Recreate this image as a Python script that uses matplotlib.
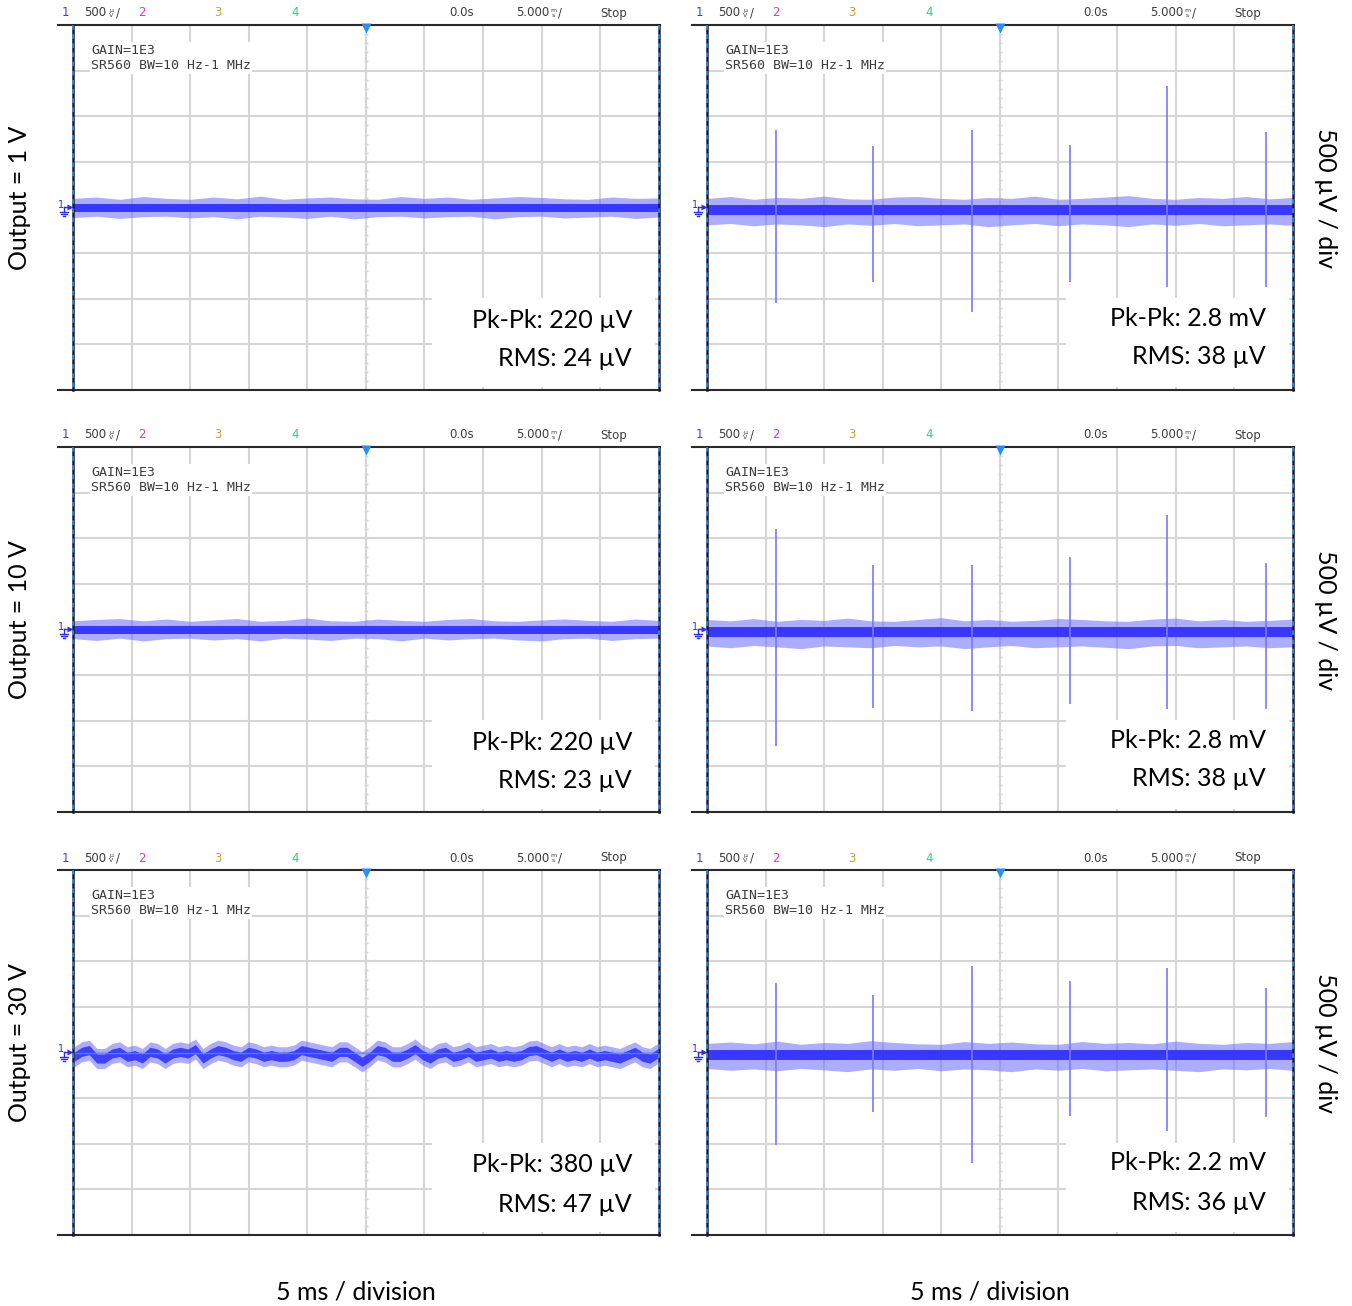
import numpy as np
import matplotlib
matplotlib.use('Agg')
import matplotlib.pyplot as plt
from matplotlib.patches import Rectangle

W, H = 1352, 1306

# scope: 10 x 8 divisions, 5 ms/div, 500 uV/div
t_span = 50.0
v_half = 2000.0

row_labels = ['Output = 1 V', 'Output = 10 V', 'Output = 30 V']
pkpk_left = ['Pk-Pk: 220 µV', 'Pk-Pk: 220 µV', 'Pk-Pk: 380 µV']
rms_left = ['RMS: 24 µV', 'RMS: 23 µV', 'RMS: 47 µV']
pkpk_right = ['Pk-Pk: 2.8 mV', 'Pk-Pk: 2.8 mV', 'Pk-Pk: 2.2 mV']
rms_right = ['RMS: 38 µV', 'RMS: 38 µV', 'RMS: 36 µV']
side_label = '500 µV / div'
bottom_label = '5 ms / division'

# noise envelope of the flat traces (uV), one value every 2 ms
env_t = np.arange(0, 51, 2)
flat_hi = [
    [100, 115, 90, 120, 100, 90, 115, 95, 125, 90, 105, 115, 95,
     90, 120, 100, 115, 90, 105, 120, 110, 95, 90, 115, 100, 105],
    [95, 110, 120, 95, 115, 90, 105, 120, 90, 100, 125, 95, 90,
     115, 100, 90, 110, 120, 95, 90, 105, 115, 100, 90, 115, 100],
]
flat_lo = [
    [-110, -95, -120, -100, -95, -115, -100, -125, -95, -105, -120, -95, -125,
     -100, -95, -115, -100, -95, -125, -100, -95, -115, -105, -95, -120, -105],
    [-100, -120, -95, -125, -100, -95, -115, -100, -125, -95, -105, -120, -95,
     -100, -125, -95, -115, -100, -95, -115, -125, -100, -95, -120, -100, -95],
]
flat_core = 48

# traces with the 120 Hz spikes: envelope (uV)
spike_hi = [
    [100, 120, 90, 110, 100, 125, 95, 90, 115, 120, 100, 90, 110,
     100, 125, 90, 100, 115, 130, 100, 90, 110, 100, 120, 95, 110],
    [110, 95, 120, 90, 110, 100, 125, 95, 90, 110, 130, 95, 110,
     90, 100, 120, 110, 95, 90, 115, 125, 95, 110, 90, 100, 115],
    [100, 115, 95, 125, 90, 110, 100, 130, 110, 95, 90, 120, 100,
     115, 95, 90, 120, 100, 110, 95, 125, 100, 90, 110, 100, 120],
]
spike_lo = [
    [-190, -175, -200, -180, -190, -210, -180, -195, -175, -200, -190, -180, -210,
     -190, -175, -200, -180, -190, -210, -180, -195, -175, -200, -190, -180, -195],
    [-180, -200, -175, -190, -210, -180, -190, -200, -175, -190, -180, -210, -190,
     -175, -200, -190, -180, -195, -210, -180, -175, -200, -190, -180, -200, -190],
    [-175, -195, -180, -200, -175, -190, -210, -180, -195, -175, -200, -180, -190,
     -210, -180, -195, -175, -200, -190, -180, -195, -210, -180, -190, -175, -195],
]
spike_core = (25, -85)

spike_t = [5.9, 14.2, 22.6, 30.95, 39.3, 47.7]
spike_top = [
    [850, 670, 850, 690, 1330, 830],
    [1105, 710, 710, 790, 1250, 730],
    [765, 630, 950, 785, 925, 705],
]
spike_bot = [
    [-1050, -815, -1150, -815, -870, -870],
    [-1275, -860, -895, -820, -870, -875],
    [-1015, -655, -1215, -695, -860, -710],
]

# 30 V output: slow wander of the trace centre (uV)
wander = [-47, 7, 26, -66, -66, -11, 7, -47, -29, -66, 7, -11, -66,
          -11, 7, -11, 37, -66, -11, 26, 7, -29, -47, 7, -11, -47,
          -29, -47, -47, -29, 26, 7, -11, -29, -47, 7, 7, -47, -102,
          -47, 26, 7, -47, -47, -11, 37, -29, -66, -11, 7, -47, -29,
          7, -47, -29, -11, -47, -29, -47, -29, 15, 26, -11, -47, -11,
          -47, -29, -47, -11, -47, -29, -47, -66, -29, 7, -47, -66, -11]
wander_t = np.linspace(0.1, 49.9, len(wander))
wander_out = 110
wander_core = 50

grid_c = '#d6d6d6'
out_c = '#6a6aff'
core_c = '#2424ff'
spike_c = '#7878ff'

txt_font = ['Lato', 'DejaVu Sans']
mono_font = ['DejaVu Sans Mono']
hdr_font = ['DejaVu Sans']

fig = plt.figure(figsize=(W / 100, H / 100), dpi=100)
panel_x = [73, 707]
panel_y = [25, 447, 870]
pw, ph = 585.8, 365.0


def make_panel(px, py):
    ax = fig.add_axes([px / W, 1 - (py + ph) / H, pw / W, ph / H])
    ax.set_xlim(0, t_span)
    ax.set_ylim(-v_half, v_half)
    ax.set_xticks([])
    ax.set_yticks([])
    for s in ax.spines.values():
        s.set_visible(False)
    for x in np.arange(5, 50, 5):
        ax.axvline(x, color=grid_c, lw=1.5, zorder=1)
    for y in np.arange(-1500, 2000, 500):
        ax.axhline(y, color=grid_c, lw=1.5, zorder=1)
    # small ticks along the centre lines
    ty = np.arange(-1900, 2000, 100)
    ax.hlines(ty, 25 - 0.2, 25 + 0.2, color=grid_c, lw=1.0, zorder=1)
    tx = np.arange(1, 50, 1)
    ax.vlines(tx, -27, 27, color=grid_c, lw=1.0, zorder=1)
    # white label box in the lower right corner
    ax.add_patch(Rectangle((0.613, 0.008), 0.38, 0.243, transform=ax.transAxes,
                           fc='white', ec='none', zorder=3))
    return ax


for r in range(3):
    # left column: without load spikes
    ax = make_panel(panel_x[0], panel_y[r])
    if r < 2:
        ax.fill_between(env_t, flat_lo[r], flat_hi[r], color=out_c, alpha=0.55,
                        lw=0, zorder=4)
        ax.fill_between(env_t, -5 - flat_core, -5 + flat_core, color=core_c,
                        alpha=0.85, lw=0, zorder=5)
    else:
        w = np.array(wander)
        ax.fill_between(wander_t, w - wander_out, w + wander_out, color=out_c,
                        alpha=0.55, lw=0, zorder=4)
        ax.fill_between(wander_t, w - wander_core, w + wander_core, color=core_c,
                        alpha=0.8, lw=0, zorder=5)
        ax.axhline(0, color='#3aa0ff', lw=1.0, alpha=0.8, zorder=6)

    # right column: with spikes
    ax = make_panel(panel_x[1], panel_y[r])
    ax.fill_between(env_t, spike_lo[r], spike_hi[r], color=out_c, alpha=0.55,
                    lw=0, zorder=4)
    ax.fill_between(env_t, spike_core[1], spike_core[0], color=core_c,
                    alpha=0.85, lw=0, zorder=5)
    ax.vlines(spike_t, spike_bot[r], spike_top[r], color=spike_c, lw=1.2, zorder=6)

# overlay in pixel coordinates for frames and text
ov = fig.add_axes([0, 0, 1, 1], zorder=10)
ov.set_xlim(0, W)
ov.set_ylim(H, 0)
ov.axis('off')
ov.patch.set_alpha(0)

hdr_c = '#3c3c3c'
hs = 8.5
for c in range(2):
    x0 = panel_x[c]
    x1 = x0 + pw
    for r in range(3):
        y0 = panel_y[r]
        y1 = y0 + ph
        ov.plot([x0 - 15, x1 + 1], [y0, y0], color='#2a2a2a', lw=1.5)
        ov.plot([x0 - 15, x1 + 1], [y1, y1], color='#2a2a2a', lw=1.5)
        for xb in (x0, x1):
            ov.plot([xb, xb], [y0, y1], color='#1a1a2a', lw=1.8)
            ov.plot([xb, xb], [y0, y1], color='#3399ff', lw=1.1, dashes=(3, 3))
        # trigger position marker
        ov.plot(x0 + pw / 2, y0 + 3, marker='v', ms=7, color='#2a8cff', mec='none')

        # header line
        hy = y0 - 12
        ov.text(x0 - 8, hy, '1', color='#3a3aff', fontsize=hs, family=hdr_font,
                ha='center', va='center')
        ov.text(x0 + 11, hy, '500', color=hdr_c, fontsize=hs, family=hdr_font,
                ha='left', va='center')
        ov.text(x0 + 38, hy, 'µ\nV', color=hdr_c, fontsize=4.5, family=hdr_font,
                ha='center', va='center', linespacing=0.9)
        ov.text(x0 + 45, hy, '/', color=hdr_c, fontsize=hs, family=hdr_font,
                ha='center', va='center')
        ov.text(x0 + 69, hy, '2', color='#e030e0', fontsize=hs, family=hdr_font,
                ha='center', va='center')
        ov.text(x0 + 145, hy, '3', color='#c8a030', fontsize=hs, family=hdr_font,
                ha='center', va='center')
        ov.text(x0 + 222, hy, '4', color='#30d080', fontsize=hs, family=hdr_font,
                ha='center', va='center')
        ov.text(x0 + 389, hy, '0.0s', color=hdr_c, fontsize=hs, family=hdr_font,
                ha='center', va='center')
        ov.text(x0 + 443, hy, '5.000', color=hdr_c, fontsize=hs, family=hdr_font,
                ha='left', va='center')
        ov.text(x0 + 480, hy, 'm\ns', color=hdr_c, fontsize=4.5, family=hdr_font,
                ha='center', va='center', linespacing=0.9)
        ov.text(x0 + 487, hy, '/', color=hdr_c, fontsize=hs, family=hdr_font,
                ha='center', va='center')
        ov.text(x0 + 541, hy, 'Stop', color=hdr_c, fontsize=hs, family=hdr_font,
                ha='center', va='center')

        # probe annotations
        bb = dict(fc='white', ec='none', pad=1.0)
        ov.text(x0 + 18, y0 + 33, 'GAIN=1E3\nSR560 BW=10 Hz-1 MHz', color=hdr_c,
                fontsize=9.5, family=mono_font, ha='left', va='center',
                linespacing=1.25, bbox=bb)

        # channel 1 ground marker
        gy = y0 + ph / 2
        ov.text(x0 - 12, gy - 3, '1', color='#2a2aff', fontsize=7, family=hdr_font,
                ha='center', va='center')
        ov.plot(x0 - 3, gy - 1, marker='>', ms=5, color='#2a2aff', mec='none')
        ov.plot([x0 - 9, x0 - 5], [gy - 1, gy - 1], color='#2a2aff', lw=1)
        ov.plot([x0 - 9, x0 - 9], [gy - 1, gy + 4], color='#2a2aff', lw=1)
        for k, half in enumerate((4, 2.6, 1.2)):
            ov.plot([x0 - 9 - half, x0 - 9 + half], [gy + 4 + 2 * k] * 2,
                    color='#2a2aff', lw=1)

# measurement labels
for r in range(3):
    yp = panel_y[r] + 295
    ov.text(632, yp, pkpk_left[r], fontsize=18, family=txt_font, ha='right', va='center')
    ov.text(632, yp + 39, rms_left[r], fontsize=18, family=txt_font, ha='right', va='center')
    ov.text(1266, yp - 2, pkpk_right[r], fontsize=18, family=txt_font, ha='right', va='center')
    ov.text(1266, yp + 37, rms_right[r], fontsize=18, family=txt_font, ha='right', va='center')
    cy = panel_y[r] + 173
    ov.text(20, cy, row_labels[r], fontsize=18, family=txt_font, rotation=90,
            ha='center', va='center')
    ov.text(1326, cy, side_label, fontsize=18, family=txt_font, rotation=270,
            ha='center', va='center')

ov.text(356, 1292, bottom_label, fontsize=18, family=txt_font, ha='center', va='center')
ov.text(990, 1292, bottom_label, fontsize=18, family=txt_font, ha='center', va='center')

fig.savefig('out.png', dpi=100, facecolor='white')
